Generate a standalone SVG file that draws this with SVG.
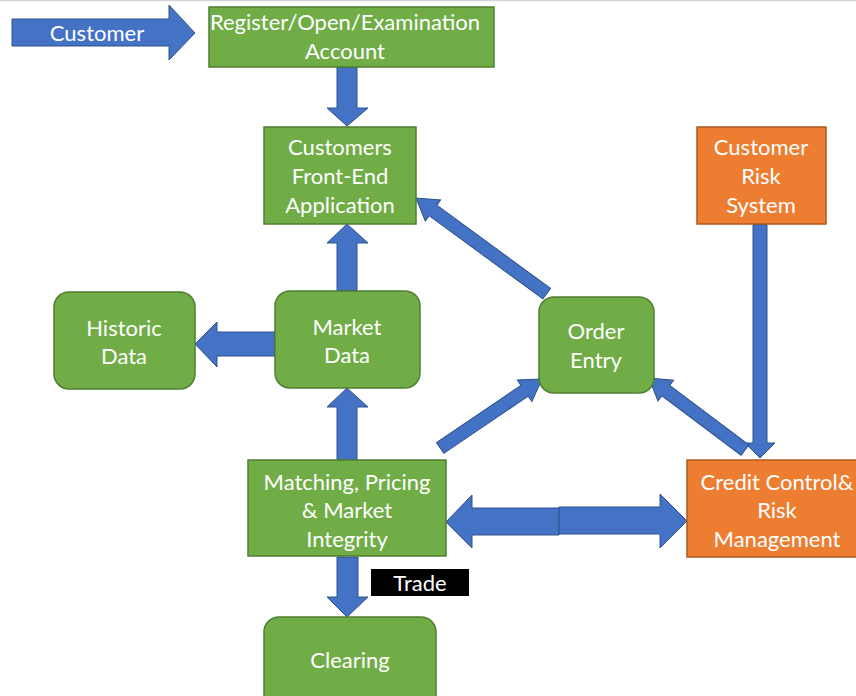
<svg xmlns="http://www.w3.org/2000/svg" width="856" height="696" viewBox="0 0 856 696">
  <style>
    .green { fill: #70AD47; stroke: #507E32; stroke-width: 1.5; }
    .orange { fill: #ED7D31; stroke: #AE5A21; stroke-width: 1.5; }
    .arrow { fill: #4472C4; stroke: #2F528F; stroke-width: 1; }
    text { font-family: Lato, "Liberation Sans", sans-serif; font-size: 22px; fill: #FFFFFF; text-anchor: middle; }
  </style>

  <rect x="0" y="0" width="856" height="696" fill="#FFFFFF"/>
  <line x1="0" y1="0.5" x2="856" y2="0.5" stroke="#D4D4D4" stroke-width="1.5"/>

  <!-- connectors: block arrows -->
  <g id="connectors">
    <!-- Customer entry arrow -->
    <polygon class="arrow" points="12,19 169,19 169,5 195,33 169,60 169,46 12,46"/>
    <!-- Register -> Customers Front-End -->
    <polygon class="arrow" points="337,67 357,67 357,108 368,108 347,126 327,108 337,108"/>
    <!-- Market Data -> Customers Front-End -->
    <polygon class="arrow" points="347,224 368,243 357,243 357,291 337,291 337,243 327,243"/>
    <!-- Market Data -> Historic Data -->
    <polygon class="arrow" points="195,344 217,322 217,332 275,332 275,356 217,356 217,367"/>
    <!-- Matching -> Market Data -->
    <polygon class="arrow" points="347,388 368,407 357,407 357,460 337,460 337,407 327,407"/>
    <!-- Matching -> Clearing -->
    <polygon class="arrow" points="337,557 358,557 358,597 368,597 347,617 327,597 337,597"/>
    <!-- Matching <-> Credit Control (two halves) -->
    <polygon class="arrow" points="446,522 472,495 472,508 559,508 559,535 472,535 472,548"/>
    <polygon class="arrow" points="687,521 660,494 660,507 559,507 559,534 660,534 660,548"/>
    <!-- Customer Risk System -> Credit Control -->
    <polygon class="arrow" points="753,224 767,224 767,443 775,443 760,458 745,443 753,443"/>
    <!-- Order Entry -> Customers Front-End -->
    <polygon class="arrow" transform="translate(416,198) rotate(216.2)" points="0,0 -21,-13 -21,-6.5 -162,-6.5 -162,6.5 -21,6.5 -21,13"/>
    <!-- Matching -> Order Entry -->
    <polygon class="arrow" transform="translate(542,379) rotate(-34.1)" points="0,0 -21,-13 -21,-6.5 -123,-6.5 -123,6.5 -21,6.5 -21,13"/>
    <!-- Credit Control -> Order Entry -->
    <polygon class="arrow" transform="translate(649,378) rotate(216.9)" points="0,0 -21,-13 -21,-6.5 -120,-6.5 -120,6.5 -21,6.5 -21,13"/>
  </g>

  <text x="97" y="41">Customer</text>

  <g id="register">
    <rect class="green" x="209" y="7" width="285" height="60"/>
    <text x="345" y="30">Register/Open/Examination</text>
    <text x="345" y="59">Account</text>
  </g>

  <g id="front-end">
    <rect class="green" x="264" y="127" width="152" height="97"/>
    <text x="340" y="155">Customers</text>
    <text x="340" y="184">Front-End</text>
    <text x="340" y="213">Application</text>
  </g>

  <g id="customer-risk">
    <rect class="orange" x="697" y="127" width="129" height="97"/>
    <text x="761" y="155">Customer</text>
    <text x="761" y="184">Risk</text>
    <text x="761" y="213">System</text>
  </g>

  <g id="historic-data">
    <rect class="green" x="54" y="292" width="141" height="97" rx="15"/>
    <text x="124" y="336">Historic</text>
    <text x="124" y="364">Data</text>
  </g>

  <g id="market-data">
    <rect class="green" x="275" y="291" width="145" height="97" rx="15"/>
    <text x="347" y="335">Market</text>
    <text x="347" y="363">Data</text>
  </g>

  <g id="order-entry">
    <rect class="green" x="539" y="297" width="115" height="96" rx="15"/>
    <text x="596" y="339">Order</text>
    <text x="596" y="368">Entry</text>
  </g>

  <g id="matching">
    <rect class="green" x="248" y="460" width="198" height="96"/>
    <text x="347" y="490">Matching, Pricing</text>
    <text x="347" y="518">&amp; Market</text>
    <text x="347" y="547">Integrity</text>
  </g>

  <g id="credit-control">
    <rect class="orange" x="687" y="460" width="175" height="97"/>
    <text x="777" y="490">Credit Control&amp;</text>
    <text x="777" y="518">Risk</text>
    <text x="777" y="547">Management</text>
  </g>

  <g id="clearing">
    <rect class="green" x="264" y="617" width="172" height="100" rx="15"/>
    <text x="350" y="668">Clearing</text>
  </g>

  <g id="trade-label">
    <rect x="371" y="569" width="98" height="27" fill="#000000"/>
    <text x="420" y="591">Trade</text>
  </g>
</svg>
